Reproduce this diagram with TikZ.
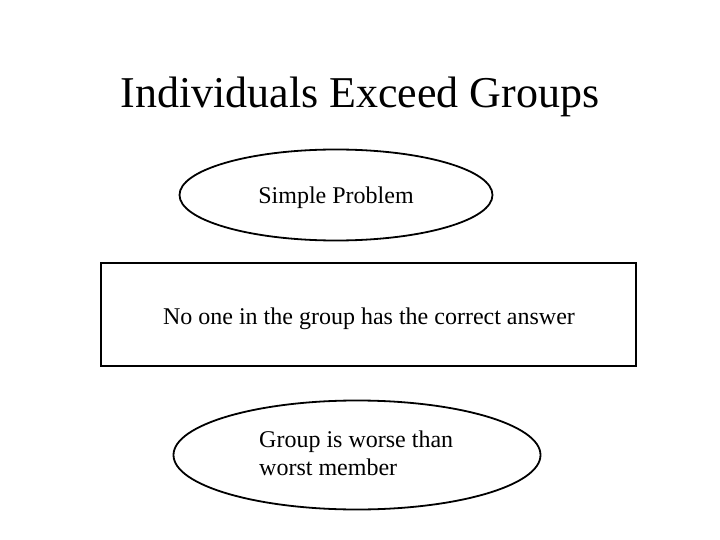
\documentclass[tikz,border=0pt]{standalone}
\usepackage{fontspec}
\setmainfont{Liberation Serif}
\newfontfamily\tnrfont{Liberation Serif}
\usetikzlibrary{shapes.geometric}
\begin{document}
\begin{tikzpicture}[x=1pt,y=-1pt,
  titletext/.style={font=\tnrfont\fontsize{44}{50}\selectfont, inner sep=0pt},
  bodytext/.style={font=\tnrfont\fontsize{24}{28}\selectfont},
  oval/.style={bodytext, ellipse, draw=black, line width=1.8pt, inner sep=0pt},
  boxnode/.style={bodytext, rectangle, draw=black, line width=1.8pt, inner sep=0pt}]
\useasboundingbox (0,0) rectangle (720,540);
\node[titletext, anchor=base] (title) at (360,108) {Individuals Exceed Groups};
\node[oval, minimum width=313pt, minimum height=91pt] (simple) at (336,195) {};
\node[bodytext, anchor=base] (simpletext) at (simple.center) [yshift=-9pt] {Simple Problem};
\node[boxnode, minimum width=535pt, minimum height=103pt] (box) at (368.5,314.5) {};
\node[bodytext, anchor=base] (boxtext) at (box.center) [yshift=-10pt, xshift=0.5pt] {No one in the group has the correct answer};
\node[oval, minimum width=367pt, minimum height=109pt] (worse) at (357,455) {};
\node[bodytext, align=left, anchor=base west, inner sep=0pt] (worsetext) at (259,475) {Group is worse than\\worst member};
\end{tikzpicture}
\end{document}
